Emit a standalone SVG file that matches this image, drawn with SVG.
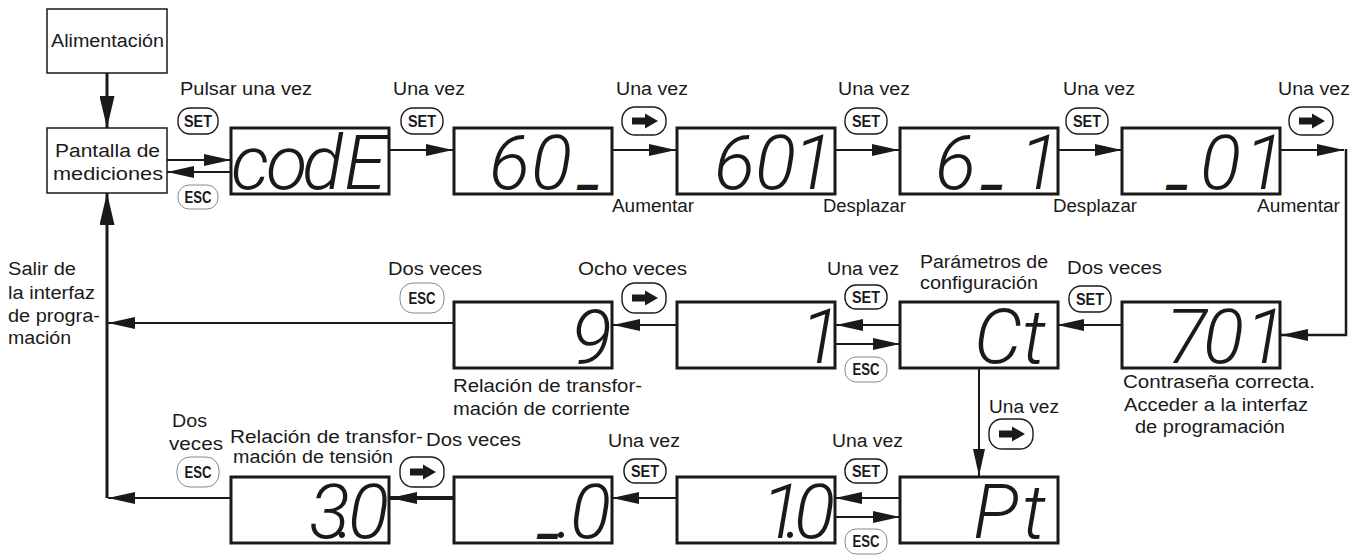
<svg xmlns="http://www.w3.org/2000/svg" width="1370" height="556" viewBox="0 0 1370 556">
<style>
text{font-family:"Liberation Sans",Arial,sans-serif;fill:#1a1a1a}
.lb{font-size:18px}
.box{fill:#fff;stroke:#1a1a1a;stroke-width:1.5}
.disp{fill:#fff;stroke:#1a1a1a;stroke-width:3}
.seg{font-family:Roboto,"Liberation Sans",sans-serif;font-size:76px;font-style:italic;font-weight:300}
.us{font-size:48px;font-weight:700}
.ln{fill:none;stroke:#1a1a1a;stroke-width:2}
.b rect{fill:#fff;stroke:#1a1a1a;stroke-width:1.4}
.e rect{fill:#fff;stroke:#8a8a8a;stroke-width:1}
.bt{font-weight:bold;font-size:17px;text-anchor:middle}
</style>
<defs>
<marker id="ah" markerUnits="userSpaceOnUse" markerWidth="27" markerHeight="12" viewBox="0 0 27 12" refX="27" refY="6" orient="auto"><path d="M0,0 L27,6 L0,12 Z" fill="#1a1a1a"/></marker>
<marker id="ahb" markerUnits="userSpaceOnUse" markerWidth="32" markerHeight="15" viewBox="0 0 32 15" refX="32" refY="7.5" orient="auto"><path d="M0,0 L32,7.5 L0,15 Z" fill="#1a1a1a"/></marker>
<path id="arw" d="M-12,-3.5 H1 V-7.5 L14,0 L1,7.5 V3.5 H-12 Z" fill="#1a1a1a"/>
</defs>
<rect width="1370" height="556" fill="#fff"/>

<g id="connectors">
<path class="ln" style="stroke-width:3" d="M107,73 V128" marker-end="url(#ahb)"/>
<path class="ln" d="M167,160 H231" marker-end="url(#ah)"/>
<path class="ln" d="M231,172 H167" marker-end="url(#ah)"/>
<path class="ln" d="M390,150 H453" marker-end="url(#ah)"/>
<path class="ln" d="M612,150 H676" marker-end="url(#ah)"/>
<path class="ln" d="M835,150 H899" marker-end="url(#ah)"/>
<path class="ln" d="M1058,150 H1122" marker-end="url(#ah)"/>
<path class="ln" d="M1280,150 H1344" marker-end="url(#ah)"/>
<path class="ln" style="stroke-width:2.5" d="M1346,149 V335 H1281" marker-end="url(#ah)"/>
<path class="ln" d="M1122,325 H1057" marker-end="url(#ah)"/>
<path class="ln" d="M900,325 H836" marker-end="url(#ah)"/>
<path class="ln" d="M836,344 H900" marker-end="url(#ah)"/>
<path class="ln" d="M677,325 H613" marker-end="url(#ah)"/>
<path class="ln" d="M454,323 H108" marker-end="url(#ah)"/>
<path class="ln" d="M979,368 V476" marker-end="url(#ah)"/>
<path class="ln" d="M900,498 H835" marker-end="url(#ah)"/>
<path class="ln" d="M835,517 H900" marker-end="url(#ah)"/>
<path class="ln" d="M677,498 H612" marker-end="url(#ah)"/>
<path class="ln" style="stroke-width:4" d="M454,498 H390" marker-end="url(#ah)"/>
<path class="ln" d="M231,498 H108" marker-end="url(#ah)"/>
<path class="ln" style="stroke-width:3" d="M107,498 V193" marker-end="url(#ahb)"/>
</g>

<g id="alimentacion">
<rect class="box" x="47" y="9" width="120" height="64"/>
<text class="lb" x="51" y="47" textLength="113" lengthAdjust="spacingAndGlyphs">Alimentación</text>
</g>
<g id="pantalla">
<rect class="box" x="47" y="128" width="120" height="65"/>
<text class="lb" x="55" y="157" textLength="105" lengthAdjust="spacingAndGlyphs">Pantalla de</text>
<text class="lb" x="53" y="180" textLength="110" lengthAdjust="spacingAndGlyphs">mediciones</text>
</g>

<g id="d-code"><rect class="disp" x="231" y="128" width="158" height="66"/>
<text class="seg" x="231 266 302 344" y="189">codE</text></g>
<g id="d-60"><rect class="disp" x="454" y="128" width="158" height="66"/>
<text class="seg" x="489 531" y="189">60<tspan class="us" x="580" y="185">_</tspan></text></g>
<g id="d-601"><rect class="disp" x="677" y="128" width="158" height="66"/>
<text class="seg" x="714 755 793" y="189">601</text></g>
<g id="d-6_1"><rect class="disp" x="900" y="128" width="158" height="66"/>
<text class="seg" x="935" y="189">6<tspan class="us" x="984" y="185">_</tspan><tspan x="1019" y="189">1</tspan></text></g>
<g id="d-_01"><rect class="disp" x="1122" y="128" width="158" height="66"/>
<text class="seg" y="189"><tspan class="us" x="1169" y="185">_</tspan><tspan x="1200 1244" y="189">01</tspan></text></g>

<g id="d-701"><rect class="disp" x="1122" y="302" width="158" height="66"/>
<text class="seg" x="1166 1203 1245" y="363">701</text></g>
<g id="d-ct"><rect class="disp" x="900" y="302" width="158" height="66"/>
<text class="seg" x="974 1022" y="363">Ct</text></g>
<g id="d-1"><rect class="disp" x="677" y="302" width="158" height="66"/>
<text class="seg" x="800" y="363">1</text></g>
<g id="d-9"><rect class="disp" x="454" y="302" width="158" height="66"/>
<text class="seg" x="571" y="363">9</text></g>

<g id="d-pt"><rect class="disp" x="900" y="477" width="158" height="66"/>
<text class="seg" x="973 1022" y="538">Pt</text></g>
<g id="d-1.0"><rect class="disp" x="677" y="477" width="158" height="66"/>
<text class="seg" x="761 785 794" y="538">1.0</text></g>
<g id="d-_.0"><rect class="disp" x="454" y="477" width="158" height="66"/>
<text class="seg" y="538"><tspan class="us" x="540" y="534">_</tspan><tspan x="556 570" y="538">.0</tspan></text></g>
<g id="d-3.0"><rect class="disp" x="231" y="477" width="158" height="66"/>
<text class="seg" x="309 337 348" y="538">3.0</text></g>

<g id="buttons">
<g class="b" transform="translate(198,121)"><rect x="-20" y="-13" width="40" height="26" rx="12"/><text class="bt" y="6" textLength="28" lengthAdjust="spacingAndGlyphs">SET</text></g>
<g class="e" transform="translate(198,197)"><rect x="-20" y="-12" width="40" height="24" rx="11"/><text class="bt" y="6" textLength="27" lengthAdjust="spacingAndGlyphs">ESC</text></g>
<g class="b" transform="translate(422,121)"><rect x="-21" y="-13" width="42" height="26" rx="12"/><text class="bt" y="6" textLength="28" lengthAdjust="spacingAndGlyphs">SET</text></g>
<g class="b" transform="translate(644,121)"><rect x="-22" y="-14" width="44" height="28" rx="13"/><use href="#arw"/></g>
<g class="b" transform="translate(866,121)"><rect x="-21" y="-13" width="42" height="26" rx="12"/><text class="bt" y="6" textLength="28" lengthAdjust="spacingAndGlyphs">SET</text></g>
<g class="b" transform="translate(1087,121)"><rect x="-21" y="-13" width="42" height="26" rx="12"/><text class="bt" y="6" textLength="28" lengthAdjust="spacingAndGlyphs">SET</text></g>
<g class="b" transform="translate(1311,121)"><rect x="-22" y="-14" width="44" height="28" rx="13"/><use href="#arw"/></g>
<g class="b" transform="translate(1090,299)"><rect x="-21" y="-13" width="42" height="26" rx="12"/><text class="bt" y="6" textLength="28" lengthAdjust="spacingAndGlyphs">SET</text></g>
<g class="b" transform="translate(866,297)"><rect x="-21" y="-12" width="42" height="24" rx="11"/><text class="bt" y="6" textLength="28" lengthAdjust="spacingAndGlyphs">SET</text></g>
<g class="e" transform="translate(866,369)"><rect x="-21" y="-12" width="42" height="25" rx="11"/><text class="bt" y="6" textLength="27" lengthAdjust="spacingAndGlyphs">ESC</text></g>
<g class="b" transform="translate(644,298)"><rect x="-22" y="-15" width="44" height="30" rx="13"/><use href="#arw"/></g>
<g class="e" transform="translate(422,298)"><rect x="-22" y="-15" width="44" height="30" rx="13"/><text class="bt" y="6" textLength="27" lengthAdjust="spacingAndGlyphs">ESC</text></g>
<g class="b" transform="translate(1011,434)"><rect x="-22" y="-15" width="44" height="30" rx="13"/><use href="#arw"/></g>
<g class="b" transform="translate(866,471)"><rect x="-21" y="-12" width="42" height="24" rx="11"/><text class="bt" y="6" textLength="28" lengthAdjust="spacingAndGlyphs">SET</text></g>
<g class="e" transform="translate(866,541)"><rect x="-21" y="-12" width="42" height="25" rx="11"/><text class="bt" y="6" textLength="27" lengthAdjust="spacingAndGlyphs">ESC</text></g>
<g class="b" transform="translate(645,471)"><rect x="-21" y="-12" width="42" height="24" rx="11"/><text class="bt" y="6" textLength="28" lengthAdjust="spacingAndGlyphs">SET</text></g>
<g class="b" transform="translate(422,472)"><rect x="-22" y="-15" width="44" height="30" rx="13"/><use href="#arw"/></g>
<g class="e" transform="translate(198,472)"><rect x="-21" y="-15" width="42" height="30" rx="13"/><text class="bt" y="6" textLength="27" lengthAdjust="spacingAndGlyphs">ESC</text></g>
</g>

<g id="labels" class="lb">
<text class="lb" x="180" y="95" textLength="132" lengthAdjust="spacingAndGlyphs">Pulsar una vez</text>
<text class="lb" x="393" y="95" textLength="72" lengthAdjust="spacingAndGlyphs">Una vez</text>
<text class="lb" x="616" y="95" textLength="72" lengthAdjust="spacingAndGlyphs">Una vez</text>
<text class="lb" x="838" y="95" textLength="72" lengthAdjust="spacingAndGlyphs">Una vez</text>
<text class="lb" x="1063" y="95" textLength="72" lengthAdjust="spacingAndGlyphs">Una vez</text>
<text class="lb" x="1278" y="95" textLength="72" lengthAdjust="spacingAndGlyphs">Una vez</text>
<text class="lb" x="612" y="212" textLength="82" lengthAdjust="spacingAndGlyphs">Aumentar</text>
<text class="lb" x="823" y="212" textLength="83" lengthAdjust="spacingAndGlyphs">Desplazar</text>
<text class="lb" x="1053" y="212" textLength="84" lengthAdjust="spacingAndGlyphs">Desplazar</text>
<text class="lb" x="1257" y="212" textLength="83" lengthAdjust="spacingAndGlyphs">Aumentar</text>
<text class="lb" x="8" y="275" textLength="68" lengthAdjust="spacingAndGlyphs">Salir de</text>
<text class="lb" x="8" y="299" textLength="87" lengthAdjust="spacingAndGlyphs">la interfaz</text>
<text class="lb" x="8" y="322" textLength="92" lengthAdjust="spacingAndGlyphs">de progra-</text>
<text class="lb" x="8" y="344" textLength="63" lengthAdjust="spacingAndGlyphs">mación</text>
<text class="lb" x="388" y="275" textLength="94" lengthAdjust="spacingAndGlyphs">Dos veces</text>
<text class="lb" x="578" y="275" textLength="109" lengthAdjust="spacingAndGlyphs">Ocho veces</text>
<text class="lb" x="827" y="275" textLength="72" lengthAdjust="spacingAndGlyphs">Una vez</text>
<text class="lb" x="920" y="268" textLength="128" lengthAdjust="spacingAndGlyphs">Parámetros de</text>
<text class="lb" x="920" y="289" textLength="118" lengthAdjust="spacingAndGlyphs">configuración</text>
<text class="lb" x="1067" y="274" textLength="95" lengthAdjust="spacingAndGlyphs">Dos veces</text>
<text class="lb" x="453" y="392" textLength="189" lengthAdjust="spacingAndGlyphs">Relación de transfor-</text>
<text class="lb" x="453" y="415" textLength="177" lengthAdjust="spacingAndGlyphs">mación de corriente</text>
<text class="lb" x="1123" y="388" textLength="192" lengthAdjust="spacingAndGlyphs">Contraseña correcta.</text>
<text class="lb" x="1124" y="411" textLength="184" lengthAdjust="spacingAndGlyphs">Acceder a la interfaz</text>
<text class="lb" x="1135" y="433" textLength="150" lengthAdjust="spacingAndGlyphs">de programación</text>
<text class="lb" x="989" y="413" textLength="70" lengthAdjust="spacingAndGlyphs">Una vez</text>
<text class="lb" x="172" y="427" textLength="35" lengthAdjust="spacingAndGlyphs">Dos</text>
<text class="lb" x="169" y="450" textLength="54" lengthAdjust="spacingAndGlyphs">veces</text>
<text class="lb" x="230" y="443" textLength="193" lengthAdjust="spacingAndGlyphs">Relación de transfor-</text>
<text class="lb" x="233" y="463" textLength="160" lengthAdjust="spacingAndGlyphs">mación de tensión</text>
<text class="lb" x="426" y="446" textLength="95" lengthAdjust="spacingAndGlyphs">Dos veces</text>
<text class="lb" x="608" y="447" textLength="72" lengthAdjust="spacingAndGlyphs">Una vez</text>
<text class="lb" x="832" y="447" textLength="71" lengthAdjust="spacingAndGlyphs">Una vez</text>
</g>
</svg>
